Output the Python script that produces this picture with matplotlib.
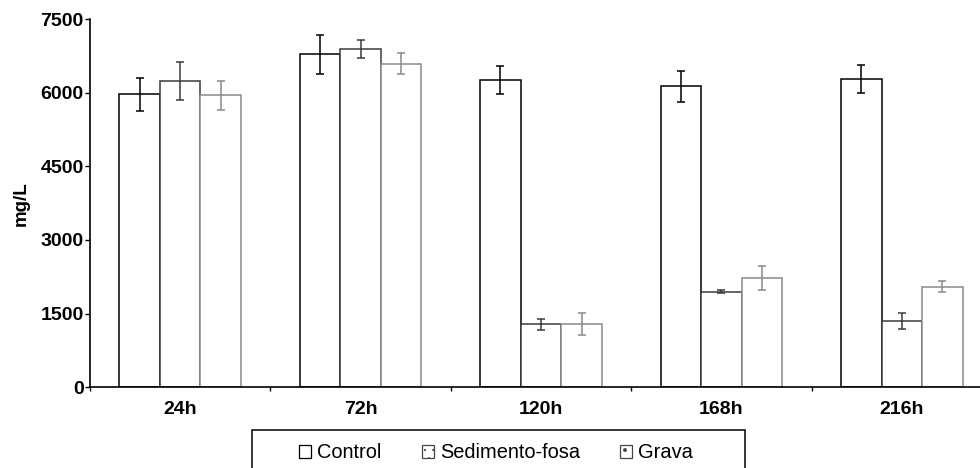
import matplotlib
matplotlib.use("Agg")
import matplotlib.pyplot as plt
import numpy as np
from matplotlib.patches import Rectangle

plt.rcParams['font.family'] = ['Liberation Sans', 'DejaVu Sans']
plt.rcParams['hatch.linewidth'] = 0.4

# data (mg/L)
times = ['24h', '72h', '120h', '168h', '216h']
series = ['Control', 'Sedimento-fosa', 'Grava']
control = [5965, 6780, 6258, 6130, 6277]
control_err = [340, 390, 280, 316, 288]
sedimento = [6236, 6894, 1283, 1946, 1350]
sedimento_err = [390, 187, 108, 34, 153]
grava = [5945, 6589, 1283, 2219, 2048]
grava_err = [290, 211, 224, 241, 108]

values = [control, sedimento, grava]
errors = [control_err, sedimento_err, grava_err]
edges = ['black', '#3a3a3a', '#8a8a8a']
legend_hatch = [None, '..', '.']
legend_edges = ['black', '#444444', '#444444']

fig = plt.figure(figsize=(9.8, 4.68), dpi=100)
W, H = 980, 468
ax = fig.add_axes([90 / W, 80.7 / H, 902 / W, 368.3 / H])

x = np.arange(len(times)) + 0.5
width = 0.225
for i, (vals, errs, ec) in enumerate(zip(values, errors, edges)):
    ax.bar(x + (i - 1) * width, vals, width, color='white', edgecolor=ec,
           linewidth=1.1, label=series[i], zorder=2)
    ax.errorbar(x + (i - 1) * width, vals, yerr=errs, fmt='none', ecolor=ec,
                elinewidth=1.1, capsize=3, capthick=1.1, zorder=3)

ax.set_xlim(0, len(times))
ax.set_ylim(0, 7500)
ax.set_yticks(np.arange(0, 7501, 1500))
ax.set_xticks(x)
ax.set_xticklabels(times)
ax.set_xticks(np.arange(0, len(times) + 1), minor=True)
ax.tick_params(axis='x', which='major', length=0, pad=10)
ax.tick_params(axis='x', which='minor', length=3, width=1, direction='out')
ax.tick_params(axis='y', length=3.5, width=1, pad=1, direction='out')
for lab in ax.get_xticklabels() + ax.get_yticklabels():
    lab.set_fontsize(14)
    lab.set_fontweight('bold')

ax.set_ylabel('mg/L', fontsize=13.5, fontweight='bold', labelpad=8)
for s in ['top', 'right']:
    ax.spines[s].set_visible(False)
for s in ['left', 'bottom']:
    ax.spines[s].set_linewidth(1.2)

# legend with a square frame that runs past the bottom edge
leg = fig.legend(loc='center', bbox_to_anchor=(496 / W, 1 - 453 / H), ncol=3,
                 frameon=False, fontsize=14.4, handlelength=0.6,
                 handleheight=0.6, handletextpad=0.3, columnspacing=2.0)
for h, hatch, ec in zip(leg.legend_handles, legend_hatch, legend_edges):
    h.set_edgecolor(ec)
    h.set_linewidth(0.9)
    if hatch:
        h.set_hatch(hatch)
fig.patches.append(Rectangle((252 / W, 1 - 482 / H), 493 / W, 52 / H,
                             transform=fig.transFigure, fill=False,
                             edgecolor='black', linewidth=1.1))

fig.savefig('out.png', dpi=100)
